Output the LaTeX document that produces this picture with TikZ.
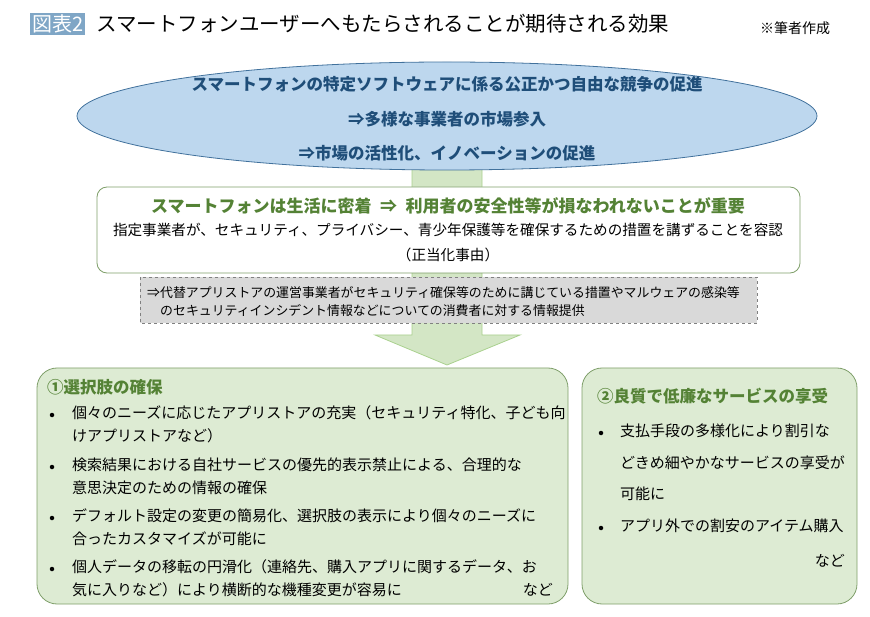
\documentclass[tikz,border=0pt]{standalone}
\usepackage{fontspec}
\setmainfont{Noto Sans CJK JP}
\usetikzlibrary{shapes.geometric,positioning}
\definecolor{ellfill}{HTML}{BDD7EE}
\definecolor{elldraw}{HTML}{41719C}
\definecolor{navy}{HTML}{1F4E79}
\definecolor{leaf}{HTML}{548235}
\definecolor{arrowfill}{HTML}{D3E6C5}
\definecolor{arrowdraw}{HTML}{A9D18E}
\definecolor{boxfill}{HTML}{DDEBD3}
\definecolor{boxdraw}{HTML}{7F9F6A}
\definecolor{tagblue}{HTML}{7FA6C6}
\newcommand{\fs}[1]{\fontsize{#1}{#1}\selectfont}
\tikzset{
  txt/.style={inner sep=0pt, anchor=west},
  bul/.style={circle, fill=black, inner sep=0pt, minimum size=4.5pt},
  greenbox/.style={draw=boxdraw, fill=boxfill, rounded corners=20pt, line width=0.8pt}
}
\begin{document}
\begin{tikzpicture}[x=1pt,y=-1pt]
\useasboundingbox (0,0) rectangle (870,617);
% title
\node[fill=tagblue, text=white, inner sep=2pt, anchor=west, font=\fs{20}] (tag) at (30,24) {図表2};
\node[txt, font=\fs{20.5}] (title) at (96,24) {スマートフォンユーザーへもたらされることが期待される効果};
\node[txt, font=\fs{14}] (note) at (760,28) {※筆者作成};
% big arrow
\draw[draw=arrowdraw, fill=arrowfill, line width=0.8pt]
  (412,160) -- (482,160) -- (482,335) -- (520,335) -- (447,365) -- (375,335) -- (412,335) -- cycle;
% ellipse
\node[ellipse, draw=elldraw, fill=ellfill, line width=0.8pt, minimum width=740pt, minimum height=108pt] (goal) at (447,116) {};
\node[font=\fs{16.5}\bfseries, text=navy] (g1) at (447,84) {スマートフォンの特定ソフトウェアに係る公正かつ自由な競争の促進};
\node[font=\fs{16.5}\bfseries, text=navy] (g2) at (447,119) {⇒多様な事業者の市場参入};
\node[font=\fs{16.5}\bfseries, text=navy] (g3) at (447,153) {⇒市場の活性化、イノベーションの促進};
% justification box
\draw[draw=boxdraw, fill=white, rounded corners=10pt, line width=0.8pt] (97,187) rectangle (800,273);
\node[font=\fs{17}\bfseries, text=leaf] (j1) at (448,206) {スマートフォンは生活に密着\enspace ⇒\enspace 利用者の安全性等が損なわれないことが重要};
\node[font=\fs{14.6}] (j2) at (448,230) {指定事業者が、セキュリティ、プライバシー、青少年保護等を確保するための措置を講ずることを容認};
\node[font=\fs{14.6}] (j3) at (448,255) {（正当化事由）};
% info box
\draw[dashed, draw=gray, fill=black!15] (140,277) rectangle (757,323);
\node[txt, font=\fs{12.9}] (i1) at (147,293) {⇒代替アプリストアの運営事業者がセキュリティ確保等のために講じている措置やマルウェアの感染等};
\node[txt, font=\fs{12.9}] (i2) at (160,311) {のセキュリティインシデント情報などについての消費者に対する情報提供};
% choice box
\draw[greenbox] (37,368) rectangle (568,604);
\node[txt, font=\fs{16.5}\bfseries, text=leaf] (c0) at (47,387) {①選択肢の確保};
\foreach \y/\t in {413/個々のニーズに応じたアプリストアの充実（セキュリティ特化、子ども向,
                   436/けアプリストアなど）,
                   465/検索結果における自社サービスの優先的表示禁止による、合理的な,
                   488/意思決定のための情報の確保,
                   516/デフォルト設定の変更の簡易化、選択肢の表示により個々のニーズに,
                   539/合ったカスタマイズが可能に,
                   567/個人データの移転の円滑化（連絡先、購入アプリに関するデータ、お,
                   590/気に入りなど）により横断的な機種変更が容易に}
  \node[txt, font=\fs{15}] at (72,\y) {\t};
\foreach \y in {415,467,518,569}
  \node[bul] at (52,\y) {};
\node[anchor=east, inner sep=0pt, font=\fs{15}] (c9) at (553,590) {など};
% service box
\draw[greenbox] (582,368) rectangle (857,604);
\node[txt, font=\fs{16.5}\bfseries, text=leaf] (s0) at (597,396) {②良質で低廉なサービスの享受};
\foreach \y/\t in {431/支払手段の多様化により割引な, 463/どきめ細やかなサービスの享受が,
                   494/可能に, 526/アプリ外での割安のアイテム購入}
  \node[txt, font=\fs{15}] at (620,\y) {\t};
\foreach \y in {433,528}
  \node[bul] at (601,\y) {};
\node[anchor=east, inner sep=0pt, font=\fs{15}] (s9) at (845,561) {など};
\end{tikzpicture}
\end{document}
